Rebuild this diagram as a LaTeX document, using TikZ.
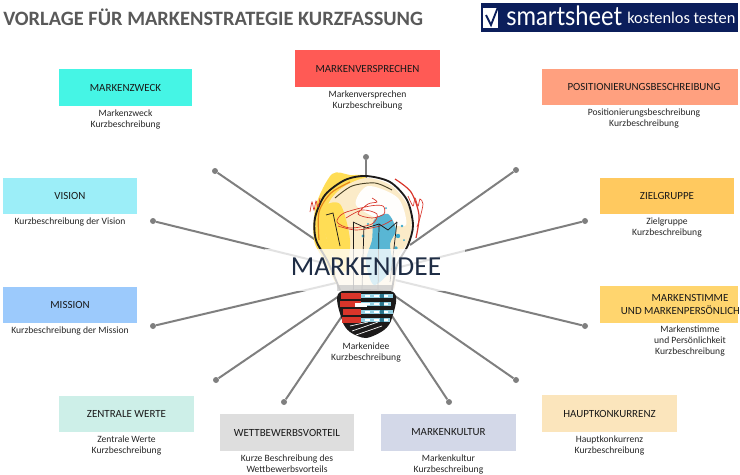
\documentclass[tikz,border=0pt]{standalone}
\usepackage{fontspec}
\setmainfont{Carlito}
\newfontfamily\logofont{Lato}
\usetikzlibrary{calc}
\definecolor{titlegray}{HTML}{595959}
\definecolor{spokegray}{HTML}{7F7F7F}
\definecolor{ideanavy}{HTML}{1F2D45}
\definecolor{logonavy}{HTML}{0B1E5B}
\definecolor{zweckcol}{HTML}{45F5E5}
\definecolor{versprechencol}{HTML}{FF5A55}
\definecolor{positioncol}{HTML}{FFA07F}
\definecolor{visioncol}{HTML}{9CEEF8}
\definecolor{zielcol}{HTML}{FFC95F}
\definecolor{missioncol}{HTML}{9CCAFC}
\definecolor{stimmecol}{HTML}{FFD56E}
\definecolor{wertecol}{HTML}{CDEFE8}
\definecolor{vorteilcol}{HTML}{DEDEDE}
\definecolor{kulturcol}{HTML}{D3D8E8}
\definecolor{konkurrenzcol}{HTML}{FBE5BC}
\definecolor{bulbyellow}{HTML}{FFDD55}
\definecolor{bulbcream}{HTML}{FBEBC8}
\definecolor{bulbblue}{HTML}{3CA9CC}
\definecolor{bulbred}{HTML}{D8352A}
\definecolor{bulborange}{HTML}{E8891C}
\definecolor{bulbblack}{HTML}{1C1A1A}
\tikzset{
  cardbox/.style={inner sep=0pt,font=\fontsize{8.2}{9.6}\selectfont,text=black!90,align=center},
  cardtext/.style={inner sep=0pt,font=\fontsize{7.2}{8}\selectfont,text=black!85,align=center,anchor=north},
  spot/.style={circle,fill=spokegray,inner sep=0pt,minimum size=4.5pt},
  spoke/.style={spokegray,line width=1.5pt},
  scribble/.style={bulbred,line width=0.5pt},
  wire/.style={bulbblack,line width=0.55pt}
}
% a coloured card with its text below: name, left, top, right, bottom, colour, title, text
\newcommand\DrawCard[8]{
  \fill[#6] (#2,#3) rectangle (#4,#5);
  \node[cardbox] (#1) at ($ (#2,#3)!0.5!(#4,#5) $) {#7};
  \node[cardtext] (#1text) at ($ (#2,#5)!0.5!(#4,#5) + (0,3.5) $) {#8};
}
\begin{document}
\begin{tikzpicture}[x=0.75pt,y=-0.75pt]
	\useasboundingbox (0,0) rectangle (740,475);

	% heading and logo
	\node[anchor=west,inner sep=0pt,text=titlegray,font=\fontsize{15.3}{17}\selectfont\bfseries] (heading) at (3,17)
	  {VORLAGE FÜR MARKENSTRATEGIE KURZFASSUNG};
	\fill[logonavy] (481,3) rectangle (738,32);
	\fill[white] (483,8) rectangle (498,28);
	\draw[logonavy,line width=1.4pt] (486,15) -- (491,25) -- (498,7);
	\node[anchor=west,inner sep=0pt,text=white,font=\logofont\fontsize{20}{22}\selectfont] (logoword) at (506,16) {\scalebox{0.89}[1]{smartsheet}};
	\node[anchor=west,inner sep=0pt,text=white,font=\fontsize{12.3}{14}\selectfont] (logotest) at (627,18) {kostenlos testen};

	% spokes
	\foreach \Name/\X/\Y/\EndX/\EndY in {
	  a/215/171/320/243,b/153/221/340/267,c/153/326/340/282,d/216/380/342/294,e/284/402/342/316,
	  f/366/157/366/180,g/516/170/410/245,h/585/221/400/267,i/585/326/395/280,j/516/380/392/294,k/449/402/392/316}
	{
	  \node[spot] (dot\Name) at (\X,\Y) {};
	  \coordinate (end\Name) at (\EndX,\EndY);
	  \draw[spoke] (dot\Name) -- (end\Name);
	}

	% the bulb glass
	\fill[bulbyellow] plot[smooth cycle] coordinates {(332,174) (350,175) (366,177) (340,200) (330,240) (338,285) (325,262) (314,240) (316,205)};
	\fill[bulbcream] plot[smooth cycle] coordinates {(366,178) (392,186) (410,210) (410,238) (395,262) (392,290) (340,290) (336,262) (326,235) (328,205) (342,188)};
	\fill[white!95!bulbcream] plot[smooth cycle] coordinates {(368,186) (398,198) (406,225) (385,222) (356,205)};
	\fill[bulbyellow] plot[smooth cycle] coordinates {(322,210) (340,204) (350,240) (345,272) (330,250)};
	\fill[bulbblue!85!white] plot[smooth cycle] coordinates {(374,220) (388,214) (396,230) (390,244) (392,268) (374,285) (366,262) (372,240)};
	\foreach \X/\Y/\Size in {398/236/2.2,402/226/1.4,363/236/1.6,386/208/1,396/248/1.8,368/224/1.2,404/240/1}
	  \fill[bulbblue] (\X,\Y) circle (\Size);
	\draw[bulbblack,line width=1.4pt] plot[smooth] coordinates {(340,290) (328,262) (316,240) (315,218) (325,195) (345,180) (366,176) (390,182) (407,200) (413,225) (408,245) (397,265) (392,290)};
	\draw[bulborange,line width=0.9pt] plot[smooth] coordinates {(319,240) (319,212) (331,193) (350,182)};
	\draw[bulbred,line width=0.9pt] plot[smooth] coordinates {(395,179) (411,192) (419,215) (416,238)};
	\draw[bulbblack!80!bulbyellow,line width=0.7pt] plot[smooth] coordinates {(335,198) (352,186) (375,183) (392,190)};

	% scribbles and filament
	\draw[scribble] plot[smooth] coordinates {(346,218) (362,210) (377,214) (372,224) (350,228) (337,222) (344,213) (370,206) (383,206) (384,214) (372,218) (358,214) (368,204) (377,202) (372,198)};
	\draw[scribble] plot[smooth] coordinates {(338,226) (356,230) (380,226) (392,220)};
	\draw[scribble] plot[smooth] coordinates {(310,212) (312,202) (314,210) (316,201) (318,207) (320,198)};
	\draw[scribble] plot[smooth] coordinates {(408,196) (413,206) (415,198) (418,206) (420,199) (423,204) (420,218) (417,227)};
	\foreach \Name/\X/\Y/\EndX/\EndY in {1/353/290/353/222,2/362/290/364/226,3/378/290/379/224,4/390/282/397/222}
	  \draw[wire] (\X,\Y) -- (\EndX,\EndY);
	\draw[wire] (353,222) -- (366,228) -- (379,224) -- (388,230) -- (397,222);
	\draw[wire] (326,215) -- (333,213) -- (340,246);

	% the bulb base
	\fill[bulbblack] plot[smooth cycle] coordinates {(340,292) (393,292) (392,318) (384,330) (366,338) (350,332) (342,320)};
	\foreach \Y/\Left/\Right in {293/341/393,301/340/391,309/343/393,317/342/390}
	{
	  \fill[bulbred] (\Left,\Y) rectangle (361,\Y+5.5);
	  \fill[bulbblue!55!white] (361,\Y+1) rectangle (\Right,\Y+5);
	  \foreach \Off in {4,13,22}
	    \fill[white] (361+\Off,\Y+1.5) rectangle +(5,2);
	  \fill[bulbblue!70!black] (380,\Y+1) rectangle +(4,3.5);
	}
	\fill[white] (355,303) rectangle (367,307);
	\draw[white,line width=0.5pt] (352,331) -- (378,322) (356,335) -- (382,326) (350,326) -- (368,322);

	% veil behind the main label
	\fill[white,opacity=0.78] (265,249) rectangle (465,291);
	\fill[gray!45,opacity=0.7] (337,285) rectangle (393,291);
	\node[inner sep=0pt,text=ideanavy,font=\fontsize{20.6}{22}\selectfont] (idea) at (366,267) {MARKENIDEE};
	\node[cardtext] (ideatext) at (366,343) {Markenidee\\Kurzbeschreibung};

	% the cards
	\DrawCard{zweck}{59}{69}{192}{106}{zweckcol}{MARKENZWECK}{Markenzweck\\Kurzbeschreibung}
	\DrawCard{versprechen}{295}{50}{440}{87}{versprechencol}{MARKENVERSPRECHEN}{Markenversprechen\\Kurzbeschreibung}
	\DrawCard{vision}{3}{178}{137}{214}{visioncol}{VISION}{Kurzbeschreibung der Vision}
	\DrawCard{ziel}{600}{178}{734}{214}{zielcol}{ZIELGRUPPE}{Zielgruppe\\Kurzbeschreibung}
	\DrawCard{mission}{3}{287}{137}{323}{missioncol}{MISSION}{Kurzbeschreibung der Mission}
	\DrawCard{werte}{59}{396}{194}{432}{wertecol}{ZENTRALE WERTE}{Zentrale Werte\\Kurzbeschreibung}
	\DrawCard{vorteil}{220}{414}{354}{451}{vorteilcol}{WETTBEWERBSVORTEIL}{Kurze Beschreibung des\\Wettbewerbsvorteils}
	\DrawCard{kultur}{381}{414}{516}{451}{kulturcol}{MARKENKULTUR}{Markenkultur\\Kurzbeschreibung}
	\DrawCard{konkurrenz}{542}{395}{677}{432}{konkurrenzcol}{HAUPTKONKURRENZ}{Hauptkonkurrenz\\Kurzbeschreibung}

	% these two cards have their text off centre
	\fill[positioncol] (542,69) rectangle (738,105);
	\node[cardbox] (position) at (644,87) {POSITIONIERUNGSBESCHREIBUNG};
	\node[cardtext] (positiontext) at (644,108.5) {Positionierungsbeschreibung\\Kurzbeschreibung};
	\fill[stimmecol] (600,286) rectangle (738,323);
	\begin{scope}
	  \clip (600,286) rectangle (738,323);
	  \node[cardbox] (stimme) at (690,304.5) {MARKENSTIMME\\UND MARKENPERSÖNLICHKEIT};
	\end{scope}
	\node[cardtext] (stimmetext) at (690,326) {Markenstimme\\und Persönlichkeit\\Kurzbeschreibung};
\end{tikzpicture}
\end{document}
